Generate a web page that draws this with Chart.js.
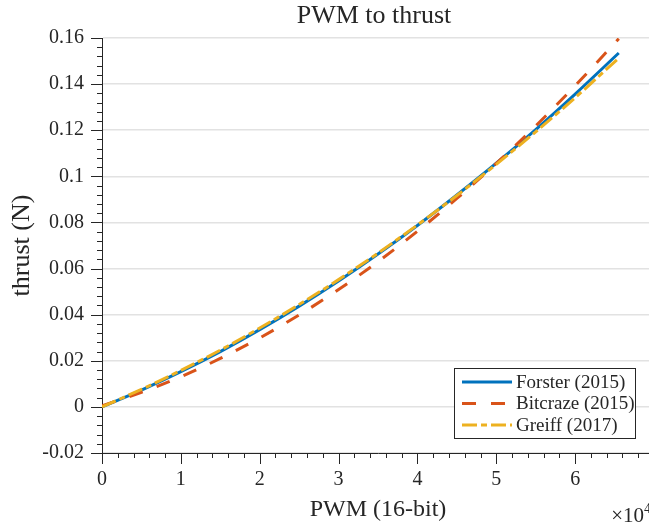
<!DOCTYPE html>
<html><head><meta charset="utf-8">
<script src="https://cdn.jsdelivr.net/npm/chart.js@4.4.0/dist/chart.umd.min.js"></script>
<style>
html,body{margin:0;padding:0;background:#fff;overflow:hidden;}
#wrap{position:relative;width:670px;height:525px;}
</style></head><body>
<div id="wrap"><canvas id="c" width="670" height="525"></canvas></div>
<script>
// ---- data ----
const pwm = [0, 5000, 10000, 15000, 20000, 25000, 30000, 35000, 40000, 45000, 50000, 55000, 60000, 65535];
const forster  = [0.0000, 0.0073, 0.0153, 0.0240, 0.0335, 0.0437, 0.0546, 0.0663, 0.0787, 0.0919, 0.1057, 0.1203, 0.1357, 0.1535];
const bitcraze = [0.0005, 0.0063, 0.0131, 0.0210, 0.0299, 0.0399, 0.0509, 0.0630, 0.0762, 0.0904, 0.1056, 0.1219, 0.1393, 0.1597];
const greiff   = [0.0000, 0.0076, 0.0158, 0.0246, 0.0342, 0.0444, 0.0552, 0.0667, 0.0789, 0.0917, 0.1052, 0.1193, 0.1341, 0.1513];
const seriesNames = ['Forster (2015)', 'Bitcraze (2015)', 'Greiff (2017)'];
const xTickValues = [0, 10000, 20000, 30000, 40000, 50000, 60000, 70000];
const xTickLabels = ['0', '1', '2', '3', '4', '5', '6', '']; // "7" falls outside the figure
const yTickValues = [-0.02, 0, 0.02, 0.04, 0.06, 0.08, 0.1, 0.12, 0.14, 0.16];
const yTickLabels = ['-0.02', '0', '0.02', '0.04', '0.06', '0.08', '0.1', '0.12', '0.14', '0.16'];
const titleText = 'PWM to thrust';
const xTitle = 'PWM (16-bit)';
const yTitle = 'thrust (N)';
const xExponent = ['\u00d710', '4'];

const FONT = "'Liberation Serif', 'Times New Roman', serif";
const INK = '#262626';
const colors = ['#0072BD', '#D95319', '#EDB120'];
const dashes = [[], [14, 15], [15, 4, 6, 4]];

function pts(ys) { return pwm.map((x, i) => ({x: x, y: ys[i]})); }

const datasets = [forster, bitcraze, greiff].map((ys, i) => ({
  label: seriesNames[i],
  data: pts(ys),
  borderColor: colors[i],
  backgroundColor: colors[i],
  borderWidth: 3,
  borderDash: dashes[i],
  borderCapStyle: 'butt',
  pointRadius: 0,
  fill: false,
  cubicInterpolationMode: 'monotone',
  order: 3 - i
}));

const axisDecor = {
  id: 'axisDecor',
  afterDraw(chart) {
    const ctx = chart.ctx, xs = chart.scales.x, ys = chart.scales.y, ca = chart.chartArea;
    ctx.save();
    ctx.strokeStyle = INK;
    ctx.lineWidth = 1;
    for (let k = 0; k <= 45; k++) {
      const v = -0.02 + k * 0.004;
      const p = Math.round(ys.getPixelForValue(v)) + 0.5;
      const len = (k % 5 === 0) ? 11 : 5;
      ctx.beginPath(); ctx.moveTo(ca.left, p); ctx.lineTo(ca.left - len, p); ctx.stroke();
    }
    for (let k = 0; k <= 35; k++) {
      const v = k * 2000;
      const p = Math.round(xs.getPixelForValue(v)) + 0.5;
      const len = (k % 5 === 0) ? 11 : 5;
      ctx.beginPath(); ctx.moveTo(p, ca.bottom); ctx.lineTo(p, ca.bottom + len); ctx.stroke();
    }
    ctx.fillStyle = INK;
    ctx.font = '26px ' + FONT;
    ctx.textAlign = 'center';
    ctx.textBaseline = 'alphabetic';
    ctx.fillText(titleText, (ca.left + ca.right) / 2 - 4, 23);
    ctx.textAlign = 'right';
    ctx.font = '21px ' + FONT;
    ctx.fillText(xExponent[0], 644, 522);
    ctx.textAlign = 'left';
    ctx.font = '14px ' + FONT;
    ctx.fillText(xExponent[1], 644, 513);
    const bx = 454.5, by = 368.5, bw = 181, bh = 70;
    ctx.fillStyle = '#ffffff';
    ctx.fillRect(bx, by, bw, bh);
    ctx.strokeStyle = INK;
    ctx.strokeRect(bx, by, bw, bh);
    const rows = [382, 403.5, 425];
    ctx.font = '19px ' + FONT;
    ctx.textBaseline = 'middle';
    ctx.textAlign = 'left';
    for (let i = 0; i < 3; i++) {
      ctx.save();
      ctx.strokeStyle = colors[i];
      ctx.lineWidth = 3;
      ctx.lineCap = 'butt';
      ctx.setLineDash(dashes[i]);
      ctx.beginPath(); ctx.moveTo(462, rows[i]); ctx.lineTo(512, rows[i]); ctx.stroke();
      ctx.restore();
      ctx.fillStyle = INK;
      ctx.fillText(seriesNames[i], 516, rows[i] + 1);
    }
    ctx.restore();
  }
};

new Chart(document.getElementById('c'), {
  type: 'line',
  data: { datasets },
  plugins: [axisDecor],
  options: {
    responsive: false,
    animation: false,
    devicePixelRatio: 1,
    layout: { padding: { top: 38, right: 16, bottom: 0, left: 0 } },
    plugins: { legend: { display: false }, tooltip: { enabled: false }, title: { display: false } },
    scales: {
      x: {
        type: 'linear', min: 0, max: 70000,
        afterFit(s) { s.height = 72; },
        afterBuildTicks(s) { s.ticks = xTickValues.map(v => ({value: v})); },
        ticks: {
          callback: (v) => xTickLabels[xTickValues.indexOf(v)],
          color: INK, font: { family: FONT, size: 20 }, padding: 15, maxRotation: 0, autoSkip: false
        },
        grid: { drawOnChartArea: false, drawTicks: false },
        border: { display: true, color: INK, width: 1 },
        title: { display: true, text: xTitle, color: INK, font: { family: FONT, size: 24 }, padding: { top: 0, bottom: 1 } }
      },
      y: {
        type: 'linear', min: -0.02, max: 0.16,
        afterFit(s) { s.width = 102; },
        afterBuildTicks(s) { s.ticks = yTickValues.map(v => ({value: v})); },
        ticks: {
          callback: (v) => { const i = yTickValues.findIndex(t => Math.abs(t - v) < 1e-9); return yTickLabels[i]; },
          color: INK, font: { family: FONT, size: 20 }, padding: 18, autoSkip: false
        },
        grid: { color: '#e2e2e2', lineWidth: 1.5, drawTicks: false },
        border: { display: true, color: INK, width: 1 },
        title: { display: true, text: yTitle, color: INK, font: { family: FONT, size: 26 }, padding: { top: 7, bottom: 0 } }
      }
    }
  }
});
</script>
</body></html>
